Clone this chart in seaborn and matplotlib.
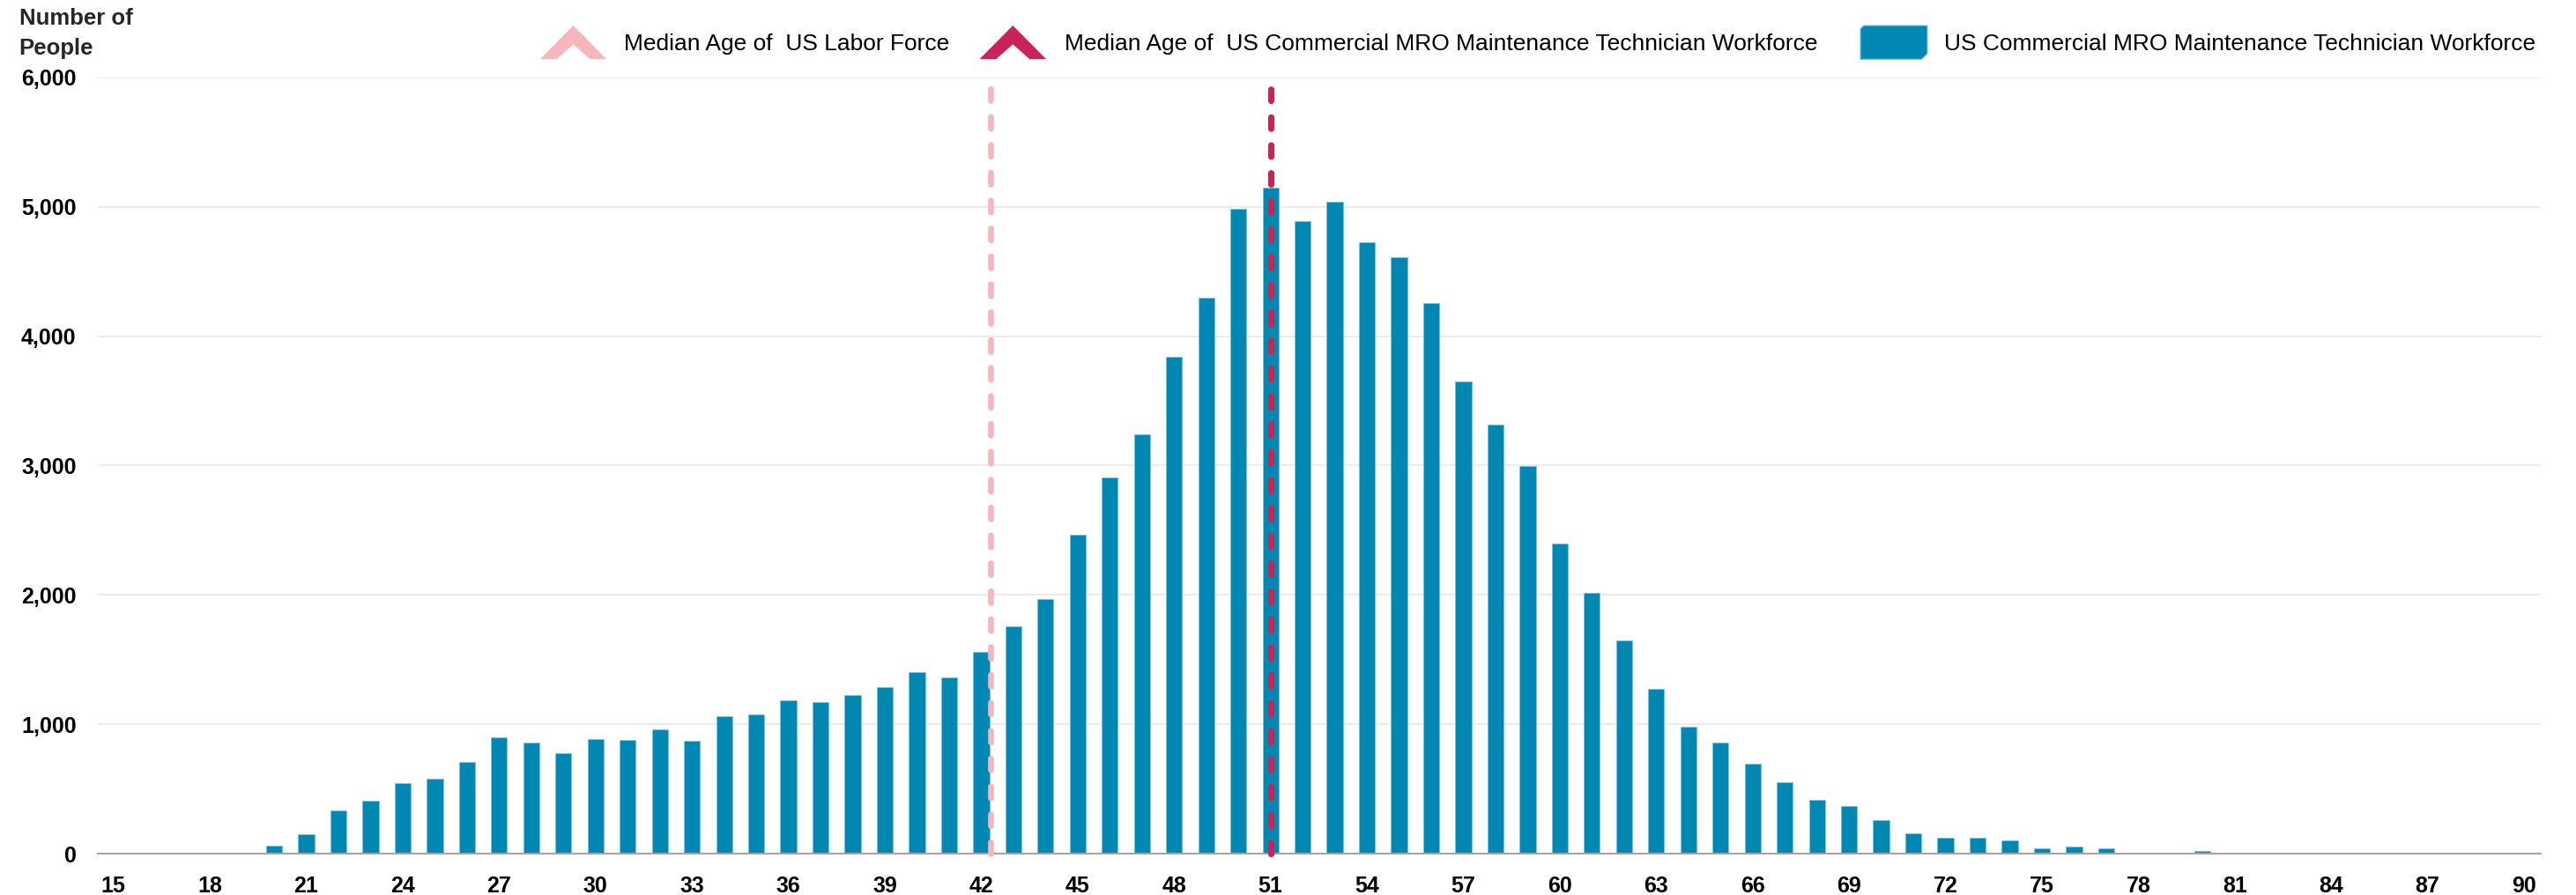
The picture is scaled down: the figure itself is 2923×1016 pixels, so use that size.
import numpy as np
import pandas as pd
import seaborn as sns
import matplotlib
matplotlib.use("Agg")
import matplotlib.pyplot as plt
from matplotlib.patches import Polygon
from matplotlib.ticker import FuncFormatter, FixedLocator

# ---------------- data ----------------
ages = list(range(15, 91))
workforce = [0, 0, 0, 0, 8, 63, 150, 333, 411, 545,
             580, 710, 900, 860, 775, 885, 880, 960, 870, 1065,
             1080, 1185, 1170, 1225, 1290, 1405, 1360, 1560, 1757, 1968,
             2468, 2906, 3240, 3840, 4298, 4980, 5148, 4887, 5036, 4725,
             4609, 4255, 3647, 3313, 2994, 2400, 2015, 1650, 1275, 985,
             860, 695, 555, 415, 370, 260, 160, 125, 125, 105,
             45, 55, 45, 10, 7, 20, 0, 0, 0, 0,
             0, 0, 0, 5, 0, 0]
median_labor_force = 42.3
median_mro = 51.0
x_ticks = list(range(15, 91, 3))
y_ticks = [0, 1000, 2000, 3000, 4000, 5000, 6000]

label_labor = "Median Age of  US Labor Force"
label_mro_median = "Median Age of  US Commercial MRO Maintenance Technician Workforce"
label_mro = "US Commercial MRO Maintenance Technician Workforce"
y_title_1 = "Number of"
y_title_2 = "People"

BAR = "#0088B2"
BAR_EDGE = "#7CC4DE"
PINK = "#F7B6BB"
RED = "#C9245A"

df = pd.DataFrame({"age": ages, "people": workforce})

# ---------------- style ----------------
sns.set_theme(style="white")
plt.rcParams["font.family"] = ["Liberation Sans", "DejaVu Sans"]
plt.rcParams["lines.scale_dashes"] = False

W, H = 2923, 1016
fig = plt.figure(figsize=(W / 100, H / 100), dpi=100)
ax_left, ax_right = 111, 2883
ax_top, ax_bottom = 87.6, 969.3
ax = fig.add_axes([ax_left / W, (H - ax_bottom) / H,
                   (ax_right - ax_left) / W, (ax_bottom - ax_top) / H])

sns.barplot(data=df, x="age", y="people", native_scale=True, width=0.5,
            color=BAR, edgecolor=BAR_EDGE, linewidth=0.6, saturation=1,
            errorbar=None, ax=ax)

# median lines (drawn bottom -> top)
ax.plot([median_labor_force, median_labor_force], [0, 6000], color=PINK,
        lw=4.8, dashes=(9.6, 13.2), dash_capstyle="round", clip_on=False,
        zorder=4)
ax.plot([median_mro, median_mro], [0, 6000], color=RED,
        lw=5.2, dashes=(9.2, 13.6), dash_capstyle="round", clip_on=False,
        zorder=5)

ax.set_xlim(14.515, 90.52)
ax.set_ylim(0, 6000)
ax.xaxis.set_major_locator(FixedLocator(x_ticks))
ax.set_xticklabels([str(t) for t in x_ticks])
ax.yaxis.set_major_locator(FixedLocator(y_ticks))
ax.yaxis.set_major_formatter(FuncFormatter(lambda v, p: f"{int(v):,}"))
ax.set_xlabel("")
ax.set_ylabel("")

ax.tick_params(axis="both", length=0, labelsize=18, labelcolor="black", pad=17.6)
for lab in ax.get_xticklabels() + ax.get_yticklabels():
    lab.set_fontweight("bold")

ax.yaxis.grid(True, color="#E6E6E6", lw=1.1)
ax.xaxis.grid(False)
ax.set_axisbelow(True)
for s in ["top", "right", "left"]:
    ax.spines[s].set_visible(False)
ax.spines["bottom"].set_color("#A3A3A3")
ax.spines["bottom"].set_linewidth(1.5)
ax.spines["bottom"].set_zorder(3)


def fx(x):
    return x / W


def fy(y):
    return 1 - y / H


# y-axis title
fig.text(fx(21.7), fy(28.3), y_title_1, fontsize=18.5, fontweight="bold",
         ha="left", va="baseline")
fig.text(fx(21.7), fy(61.7), y_title_2, fontsize=18.5, fontweight="bold",
         ha="left", va="baseline")

# ---------------- legend (drawn in figure pixels) ----------------
def chevron(x0, x1, ytop, ybot, color):
    w = x1 - x0
    h = ybot - ytop
    xc = (x0 + x1) / 2
    pts = [(x0, ybot), (xc, ytop), (x1, ybot), (x1 - 0.25 * w, ybot),
           (xc, ybot - 0.44 * h), (x0 + 0.25 * w, ybot)]
    fig.add_artist(Polygon([(fx(a), fy(b)) for a, b in pts], closed=True,
                           facecolor=color, edgecolor="none",
                           transform=fig.transFigure))


def bevel_box(x0, x1, ytop, ybot, color):
    h = ybot - ytop
    b = 0.17 * h
    r = 0.1 * h
    pts = [(x0 + r, ytop), (x1, ytop), (x1, ybot - b), (x1 - b, ybot),
           (x0, ybot), (x0, ytop + r)]
    fig.add_artist(Polygon([(fx(a), fy(c)) for a, c in pts], closed=True,
                           facecolor=color, edgecolor=BAR_EDGE, lw=0.8,
                           transform=fig.transFigure))


leg_top, leg_bot, leg_base = 29, 67, 57.3
chevron(613, 688, leg_top, leg_bot, PINK)
fig.text(fx(708), fy(leg_base), label_labor, fontsize=19, ha="left",
         va="baseline", color="black")
chevron(1111.6, 1187, leg_top, leg_bot, RED)
fig.text(fx(1208), fy(leg_base), label_mro_median, fontsize=19, ha="left",
         va="baseline", color="black")
bevel_box(2111, 2187, leg_top, leg_bot + 0.3, BAR)
fig.text(fx(2206), fy(leg_base), label_mro, fontsize=19, ha="left",
         va="baseline", color="black")

fig.savefig("out.png", dpi=100, facecolor="white")
